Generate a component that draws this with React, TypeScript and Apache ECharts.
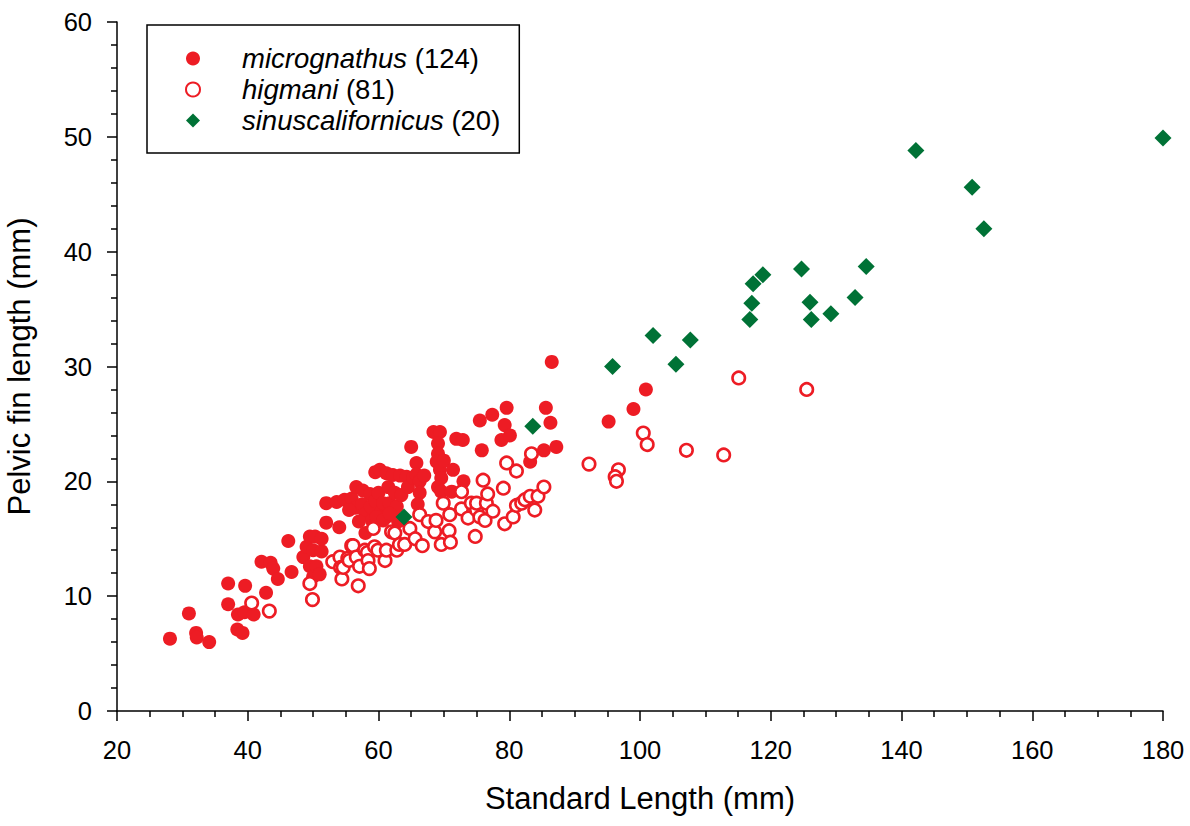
import React, { useEffect, useRef } from "react";
import * as echarts from "echarts";

const seriesNames = ["micrognathus", "higmani", "sinuscalifornicus"];
const legendCounts = [124, 81, 20];

const xTicks = { min: 20, max: 180, interval: 20 };
const yTicks = { min: 0, max: 60, interval: 10 };

const micrognathus: [number, number][] = [
  [28.1, 6.3], [31.0, 8.5], [32.1, 6.8], [32.2, 6.4], [34.1, 6.0], [37.0, 11.1], [37.0, 9.3],
  [38.4, 7.1], [39.2, 6.8], [38.5, 8.4], [39.6, 10.9], [39.5, 8.6], [40.9, 8.4], [42.8, 10.3],
  [42.1, 13.0], [43.5, 12.9], [43.9, 12.4], [44.6, 11.5], [46.2, 14.8], [46.7, 12.1], [48.5, 13.4],
  [49.0, 14.3], [49.5, 12.6], [49.5, 15.2], [50.0, 14.0], [50.0, 11.7], [50.5, 12.6], [50.3, 15.2],
  [51.0, 11.9], [51.3, 13.9], [51.3, 15.0], [52.0, 16.4], [52.0, 18.1], [53.6, 18.2], [54.8, 18.4],
  [55.9, 18.5], [56.6, 19.5], [57.6, 19.2], [58.7, 18.9],
  [56.5, 17.7], [57.5, 18.0], [58.0, 17.2], [58.8, 17.8], [59.5, 20.8], [59.5, 18.3], [60.2, 21.0],
  [60.0, 19.0], [60.5, 17.5], [60.7, 18.1], [61.2, 20.7], [61.2, 16.9], [61.5, 19.5], [61.7, 18.1],
  [62.2, 20.55], [62.2, 17.2], [62.5, 19.0], [62.8, 17.8], [63.3, 20.5], [63.5, 18.8], [63.0, 16.5],
  [64.3, 20.4], [64.5, 19.5], [65.0, 23.0], [65.3, 20.3], [65.8, 21.6], [65.8, 20.6], [66.3, 20.0],
  [66.3, 19.0], [66.0, 18.0], [67.0, 20.5], [68.4, 24.3], [69.4, 24.3], [69.1, 23.3], [69.1, 22.4],
  [68.9, 21.7], [69.4, 21.0], [69.6, 20.3], [69.1, 19.5], [69.6, 19.1], [70.0, 21.8], [71.2, 19.1],
  [71.4, 21.0], [71.9, 23.7], [72.9, 23.6], [73.0, 20.0], [57.0, 16.5], [58.0, 15.5], [59.0, 16.6],
  [55.5, 17.5], [54.0, 16.0], [59.7, 16.9], [60.7, 16.6], [61.7, 17.2],
  [75.5, 25.3], [75.8, 22.7], [77.4, 25.8], [79.6, 26.4], [79.3, 24.9], [78.8, 23.6], [80.1, 24.0],
  [83.2, 21.7], [85.6, 26.4], [86.3, 25.1], [85.3, 22.7], [87.2, 23.0], [86.5, 30.4], [95.2, 25.2],
  [99.0, 26.3], [100.9, 28.0],
];

const higmani: [number, number][] = [
  [40.6, 9.4], [43.3, 8.7], [49.5, 11.1], [49.9, 9.7], [53.0, 13.0], [54.1, 13.4], [54.2, 12.5],
  [54.4, 11.5], [54.6, 12.5], [55.3, 13.3], [55.5, 13.1], [55.9, 14.4], [56.1, 14.4], [56.6, 13.4],
  [56.9, 10.9], [57.1, 12.6], [57.9, 14.0], [58.3, 13.8], [58.4, 13.1], [58.6, 12.4], [59.2, 15.9],
  [59.4, 14.3], [59.9, 14.0], [61.0, 13.1], [61.2, 14.0], [62.0, 15.6], [62.5, 15.5], [62.8, 14.0],
  [63.2, 14.5], [64.0, 14.5], [64.8, 15.9], [65.6, 15.0], [66.3, 17.1], [66.7, 14.4], [67.6, 16.5],
  [68.6, 15.6], [68.8, 16.6], [69.6, 14.5], [69.9, 18.1], [70.8, 15.7], [70.9, 17.1], [71.0, 14.7],
  [72.7, 19.1], [72.7, 17.6], [73.7, 16.8], [74.2, 18.1], [74.8, 15.2], [75.0, 17.5], [75.0, 18.1],
  [75.5, 16.9], [76.0, 20.1], [76.3, 16.6], [76.5, 18.1], [76.7, 18.9], [77.5, 17.4], [79.1, 19.4],
  [79.3, 16.3], [79.6, 21.6], [80.6, 16.9], [81.1, 20.9], [81.1, 17.9], [81.9, 18.1], [82.4, 18.4],
  [83.2, 18.7], [83.4, 22.4], [83.9, 17.5], [84.4, 18.7], [85.3, 19.5], [92.2, 21.5], [96.7, 21.0],
  [96.2, 20.4], [96.4, 20.0], [100.5, 24.2], [101.1, 23.2], [107.1, 22.7], [112.8, 22.3],
  [115.1, 29.0], [125.5, 28.0],
];

const sinuscalifornicus: [number, number][] = [
  [180.0, 49.9], [142.2, 48.8], [150.8, 45.6], [152.6, 42.0], [134.6, 38.7], [124.7, 38.5],
  [118.8, 38.0], [117.3, 37.2], [117.1, 35.5], [126.0, 35.6], [132.9, 36.0], [129.2, 34.6],
  [126.2, 34.1], [116.8, 34.1], [102.0, 32.7], [107.7, 32.3], [95.8, 30.0], [105.5, 30.2],
  [83.6, 24.8], [63.9, 16.9],
];

const RED = "#ED1C24";
const GREEN = "#007236";
const FONT = "'Liberation Sans', Arial, sans-serif";

export default function App() {
  const ref = useRef<HTMLDivElement>(null);
  useEffect(() => {
    if (!ref.current) return;
    const chart = echarts.init(ref.current, null, { renderer: "svg" });
    const axisCommon = {
      axisLine: { show: true, onZero: false, lineStyle: { color: "#000", width: 1.5 } },
      axisTick: { show: true, inside: false, length: 10, lineStyle: { color: "#000", width: 1.5 } },
      minorTick: { show: true, length: 6, lineStyle: { color: "#000", width: 1.5 } },
      splitLine: { show: false },
      minorSplitLine: { show: false },
      axisLabel: { color: "#000", fontSize: 25.5, fontFamily: FONT },
      nameTextStyle: { color: "#000", fontSize: 31, fontFamily: FONT },
      nameLocation: "middle" as const,
    };
    chart.setOption({
      animation: false,
      backgroundColor: "#fff",
      grid: {
        left: 117,
        top: 22,
        width: 1046,
        height: 689,
        containLabel: false,
        outerBoundsMode: "none",
      },
      xAxis: {
        type: "value",
        ...axisCommon,
        min: xTicks.min,
        max: xTicks.max,
        interval: xTicks.interval,
        minorTick: { ...axisCommon.minorTick, splitNumber: 4 },
        axisLabel: { ...axisCommon.axisLabel, margin: 26 },
        name: "Standard Length (mm)",
        nameGap: 72,
      },
      yAxis: {
        type: "value",
        ...axisCommon,
        min: yTicks.min,
        max: yTicks.max,
        interval: yTicks.interval,
        minorTick: { ...axisCommon.minorTick, splitNumber: 5 },
        axisLabel: { ...axisCommon.axisLabel, margin: 25 },
        name: "Pelvic fin length (mm)",
        nameGap: 82,
      },
      legend: {
        show: true,
        orient: "vertical",
        left: 147,
        top: 25,
        padding: [18, 19, 17, 38],
        borderColor: "#000",
        borderWidth: 1.5,
        backgroundColor: "#fff",
        itemWidth: 14,
        itemHeight: 14,
        itemGap: 0,
        data: seriesNames,
        formatter: (name: string) => {
          const idx = seriesNames.indexOf(name);
          return `{i|${name}} {n|(${legendCounts[idx]})}`;
        },
        textStyle: {
          color: "#000",
          fontSize: 27.5,
          fontFamily: FONT,
          lineHeight: 31,
          rich: {
            i: { fontStyle: "italic", fontSize: 27.5, fontFamily: FONT, color: "#000", lineHeight: 31, padding: [0, 0, 0, 37] },
            n: { fontSize: 27.5, fontFamily: FONT, color: "#000", lineHeight: 31 },
          },
        },
      },
      series: [
        {
          name: seriesNames[0],
          type: "scatter",
          data: micrognathus,
          symbol: "circle",
          symbolSize: 14,
          itemStyle: { color: RED, opacity: 1 },
        },
        {
          name: seriesNames[1],
          type: "scatter",
          data: higmani,
          symbol: "circle",
          symbolSize: 12.5,
          itemStyle: { color: "#fff", borderColor: RED, borderWidth: 2.6, opacity: 1 },
        },
        {
          name: seriesNames[2],
          type: "scatter",
          data: sinuscalifornicus,
          symbol: "diamond",
          symbolSize: 17,
          itemStyle: { color: GREEN, opacity: 1 },
        },
      ],
    });
    return () => chart.dispose();
  }, []);
  return (
    <div
      ref={ref}
      style={{ position: "fixed", left: 0, top: 0, width: 1190, height: 826, background: "#fff" }}
    />
  );
}
